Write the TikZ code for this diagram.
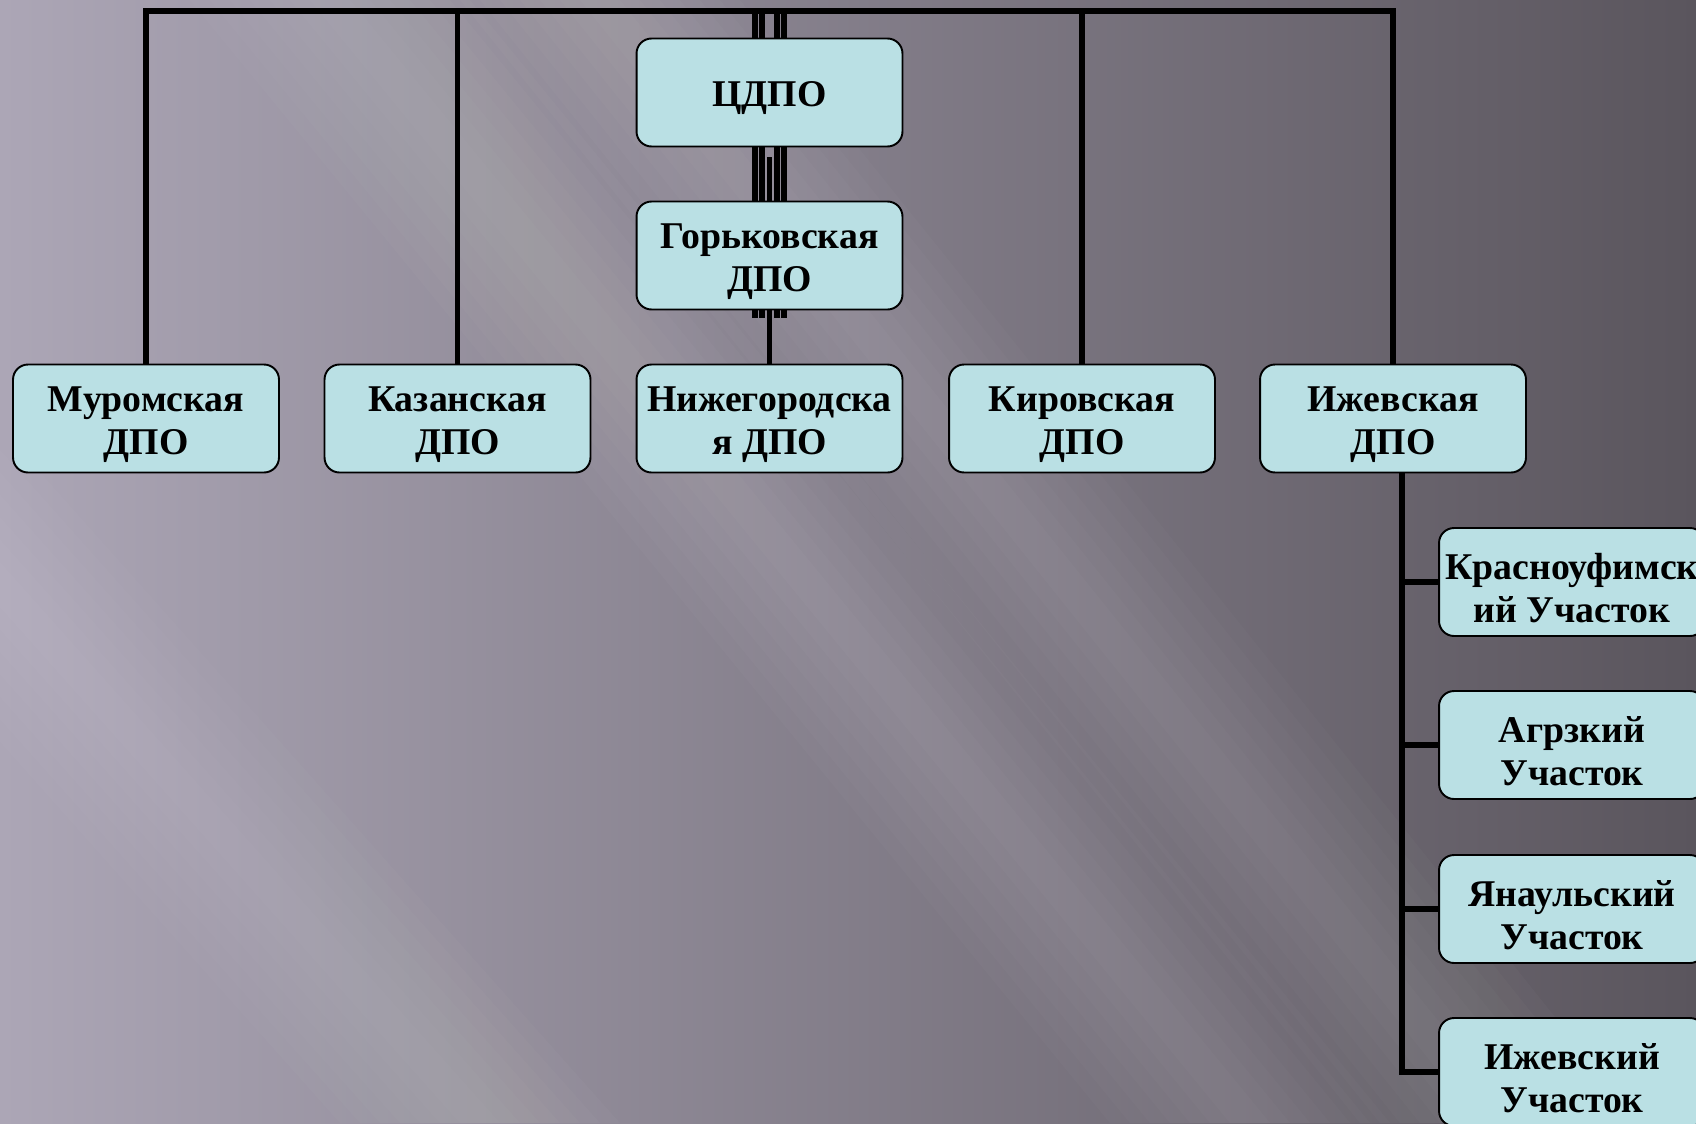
\documentclass[tikz,border=0pt]{standalone}
\usepackage{fontspec}
\setmainfont{Liberation Serif}
\usetikzlibrary{backgrounds}
\definecolor{boxfill}{RGB}{186,224,228}
\definecolor{bgleft}{RGB}{172,166,182}
\definecolor{bgright}{RGB}{90,85,93}
\begin{document}
\begin{tikzpicture}[x=0.02cm,y=-0.02cm,
  box/.style={draw=black,line width=1.1pt,fill=boxfill,rounded corners=0.3cm,
    minimum width=5.32cm,minimum height=2.16cm,inner sep=0pt,align=center,
    font=\fontsize{21.5}{24.5}\selectfont\bfseries,
    execute at begin node={\rule{0pt}{#1}}},
  box/.default=46pt,
  conn/.style={line width=3.4pt},
  bundle/.style={line width=3pt},
  streak/.style={white,opacity=0.02}]
\useasboundingbox (0,0) rectangle (1696,1123);
\clip (0,0) rectangle (1696,1123);
\node[box=20.5pt] (cdpo) at (769.5,92.5) {ЦДПО};
\node[box] (gork) at (769.5,255.5) {Горьковская\\ДПО};
\node[box] (mur) at (146,418.5) {Муромская\\ДПО};
\node[box] (kaz) at (457.5,418.5) {Казанская\\ДПО};
\node[box] (niz) at (769.5,418.5) {Нижегородска\\я ДПО};
\node[box] (kir) at (1082,418.5) {Кировская\\ДПО};
\node[box] (izh) at (1393,418.5) {Ижевская\\ДПО};
\node[box] (kra) at (1572,582) {Красноуфимск\\ий Участок};
\node[box] (agr) at (1572,745) {Агрзкий\\Участок};
\node[box] (yan) at (1572,909) {Янаульский\\Участок};
\node[box] (izu) at (1572,1072) {Ижевский\\Участок};
\begin{pgfonlayer}{background}
\shade[left color=bgleft,right color=bgright] (0,0) rectangle (1696,1123);
% soft diagonal streaks
\foreach \w in {140,120,...,20} {
  \fill[streak] (-120-\w,450) -- (-120+\w,450) -- (480+\w,1123) -- (480-\w,1123) -- cycle;
  \fill[streak] (330-\w,0) -- (330+\w,0) -- (1250+\w,1123) -- (1250-\w,1123) -- cycle;
  \fill[streak] (600-\w,0) -- (600+\w,0) -- (1500+\w,1123) -- (1500-\w,1123) -- cycle;
}
\coordinate (top) at (769.5,11);
\coordinate (trunk) at (1402,473);
\draw[conn] (mur.north) |- (top) -| (izh.north);
\draw[conn] (kaz.north) |- (top);
\draw[conn] (kir.north) |- (top);
\foreach \dx in {-14.5,-7.5,7.5,14.5}
  \draw[bundle] ([xshift=\dx*0.02cm]top) -- ([xshift=\dx*0.02cm,yshift=-0.16cm]gork.south);
\draw[bundle] ([yshift=-0.2cm]cdpo.south) -- (niz.north);
\foreach \n in {kra,agr,yan,izu}
  \draw[conn] (trunk) |- (\n.west);
\end{pgfonlayer}
\end{tikzpicture}
\end{document}
